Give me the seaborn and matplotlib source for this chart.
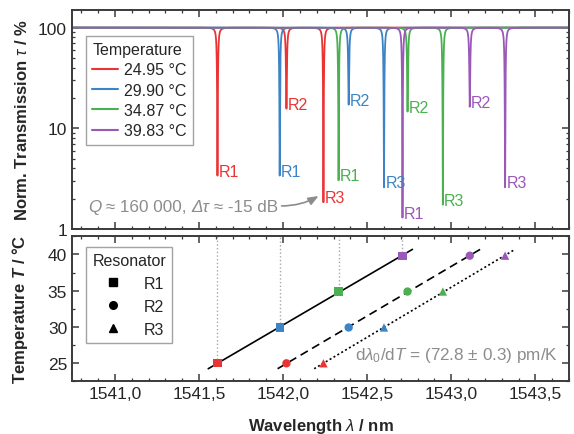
import numpy as np
import pandas as pd
import matplotlib
matplotlib.use("Agg")
import matplotlib.pyplot as plt
from matplotlib.ticker import FuncFormatter, MultipleLocator, LogLocator, NullFormatter
from matplotlib.lines import Line2D
import seaborn as sns

# ---------------- data ----------------
temps = [24.95, 29.90, 34.87, 39.83]
temp_labels = ["24.95 °C", "29.90 °C", "34.87 °C", "39.83 °C"]
colors = ["#ea3434", "#3d84c6", "#4bb04f", "#9a58b8"]
resonators = ["R1", "R2", "R3"]

# resonance wavelengths (nm) per temperature, order R1, R2, R3
res_wl = {
    "24.95 °C": [1541.61, 1542.02, 1542.24],
    "29.90 °C": [1541.98, 1542.39, 1542.60],
    "34.87 °C": [1542.33, 1542.74, 1542.95],
    "39.83 °C": [1542.71, 1543.11, 1543.32],
}
# minimum transmission (%) of each dip
res_min = {
    "24.95 °C": [3.4, 15.7, 1.85],
    "29.90 °C": [3.4, 17.2, 2.6],
    "34.87 °C": [3.05, 14.7, 1.75],
    "39.83 °C": [1.3, 16.4, 2.6],
}
Q_factor = 160000
# annotation pieces: (text, italic?)
q_parts = [("Q", True), (" ≈ 160 000, ", False), ("Δτ", True), (" ≈ -15 dB", False)]
slope_text = "d$\\mathit{λ}_0$/d$\\mathit{T}$ = (72.8 ± 0.3) pm/K"

# ---------------- style ----------------
sns.set_theme(style="ticks")
plt.rcParams["font.family"] = ["Liberation Sans", "DejaVu Sans"]
plt.rcParams["mathtext.fontset"] = "custom"
plt.rcParams["mathtext.rm"] = "Liberation Sans"
plt.rcParams["mathtext.it"] = "Liberation Sans:italic"
plt.rcParams["mathtext.bf"] = "Liberation Sans:bold"
try:
    plt.rcParams["mathtext.bfit"] = "Liberation Sans:italic:bold"
    has_bfit = True
except Exception:
    has_bfit = False
plt.rcParams["axes.edgecolor"] = "#3a3a3a"
plt.rcParams["axes.linewidth"] = 1.4
LFS = 12      # axis labels
TFS = 12.5    # tick labels
GFS = 11.5    # legends / dip labels
AFS = 12.3    # annotations
GREY = "#8c8c8c"

fig = plt.figure(figsize=(5.74, 4.35), dpi=100)
ax1 = fig.add_axes([0.1254, 0.471, 0.8659, 0.504])
ax2 = fig.add_axes([0.1254, 0.1218, 0.8659, 0.3342], sharex=ax1)

# ---------------- spectra ----------------
wl = np.linspace(1540.74, 1543.71, 40001)
frames = []
for lab in temp_labels:
    T = np.ones_like(wl)
    for c, m in zip(res_wl[lab], res_min[lab]):
        g = c / (2 * Q_factor)
        T *= 1 - (1 - m / 100.0) * g**2 / ((wl - c) ** 2 + g**2)
    frames.append(pd.DataFrame({"wl": wl, "tr": 100 * T, "temp": lab}))
spec = pd.concat(frames, ignore_index=True)
sns.lineplot(data=spec, x="wl", y="tr", hue="temp", hue_order=temp_labels,
             palette=colors, estimator=None, sort=False, lw=1.3, ax=ax1,
             legend=False)
ax1.set_yscale("log")
ax1.set_ylim(1, 150)
ax1.set_xlim(1540.745, 1543.70)

for lab, col in zip(temp_labels, colors):
    for c, m, r in zip(res_wl[lab], res_min[lab], resonators):
        ax1.text(c + 0.008, m, r, color=col, fontsize=GFS, ha="left", va="baseline")

# chained text pieces so that Δ can be italic
prev = ax1.text(1540.84, 1.52, q_parts[0][0], color=GREY, fontsize=AFS,
                ha="left", va="baseline", style="italic" if q_parts[0][1] else "normal")
for txt, it in q_parts[1:]:
    prev = ax1.annotate(txt, xy=(1, 0), xycoords=prev, ha="left", va="bottom",
                        color=GREY, fontsize=AFS,
                        style="italic" if it else "normal")

ax1.annotate("", xy=(1542.225, 2.2), xytext=(1541.975, 1.70),
             arrowprops=dict(arrowstyle="-|>,head_length=0.5,head_width=0.2",
                             color=GREY, lw=1.2,
                             connectionstyle="arc3,rad=0.15"))

h1 = [Line2D([], [], color=c, lw=1.5) for c in colors]
leg1 = ax1.legend(h1, temp_labels, title="Temperature", loc="upper left",
                  bbox_to_anchor=(0.028, 0.882), borderaxespad=0, fontsize=GFS,
                  title_fontsize=GFS, frameon=True, fancybox=False,
                  edgecolor=GREY, handlelength=1.6, handletextpad=0.4,
                  labelspacing=0.33, borderpad=0.4, alignment="left")
leg1.get_frame().set_linewidth(1.0)

ax1.set_ylabel("Norm. Transmission $\\mathit{τ}$ / %", fontsize=LFS,
               fontweight="bold")
ax1.yaxis.set_major_formatter(FuncFormatter(lambda v, p: f"{v:g}"))
ax1.yaxis.set_major_locator(LogLocator(base=10, numticks=5))
ax1.yaxis.set_minor_locator(LogLocator(base=10, subs=np.arange(2, 10), numticks=10))
ax1.yaxis.set_minor_formatter(NullFormatter())
ax1.set_xlabel("")
plt.setp(ax1.get_xticklabels(), visible=False)

# ---------------- temperature vs wavelength ----------------
rows = []
for lab, t in zip(temp_labels, temps):
    for c, r in zip(res_wl[lab], resonators):
        rows.append({"wl": c, "T": t, "temp": lab, "res": r})
pts = pd.DataFrame(rows)

# vertical guides from R1 points
r1 = pts[pts.res == "R1"]
ax2.vlines(r1.wl, r1["T"], 42.6, colors="#a8a8a8", linestyles=":", lw=1.0, zorder=1)

styles = {"R1": "-", "R2": (0, (5, 3)), "R3": (0, (1.2, 1.5))}
for r in resonators:
    sub = pts[pts.res == r]
    a, b = np.polyfit(sub["T"], sub.wl, 1)
    tt = np.array([24.2, 40.7])
    ax2.plot(a * tt + b, tt, color="black", lw=1.2, ls=styles[r], zorder=2)

sns.scatterplot(data=pts, x="wl", y="T", hue="temp", hue_order=temp_labels,
                palette=colors, style="res", markers={"R1": "s", "R2": "o", "R3": "^"},
                s=36, linewidth=0, legend=False, ax=ax2, zorder=3)
ax2.set_ylim(22.5, 42.6)

ax2.text(1542.43, 25.55, slope_text, color=GREY, fontsize=AFS,
         ha="left", va="baseline")

h2 = [Line2D([], [], color="black", marker=m, ls="none", ms=5.5)
      for m in ["s", "o", "^"]]
leg2 = ax2.legend(h2, resonators, title="Resonator", loc="upper left",
                  bbox_to_anchor=(0.028, 0.924), borderaxespad=0, fontsize=GFS,
                  title_fontsize=GFS, frameon=True, fancybox=False,
                  edgecolor=GREY, handlelength=2.6, handletextpad=0.6,
                  labelspacing=0.5, borderpad=0.4, alignment="left")
leg2.get_frame().set_linewidth(1.0)

tl = "$\\mathbfit{T}$" if has_bfit else "$\\mathit{T}$"
ax2.set_ylabel(f"Temperature {tl} / °C", fontsize=LFS, fontweight="bold")
ax2.set_xlabel("Wavelength $\\mathit{λ}$ / nm", fontsize=LFS,
               fontweight="bold", labelpad=11)
ax2.yaxis.set_major_locator(MultipleLocator(5))
ax2.yaxis.set_minor_locator(MultipleLocator(2.5))
ax2.xaxis.set_major_locator(MultipleLocator(0.5))
ax2.xaxis.set_minor_locator(MultipleLocator(0.1))
ax2.xaxis.set_major_formatter(FuncFormatter(lambda v, p: f"{v:.1f}".replace(".", ",")))

for ax in (ax1, ax2):
    ax.tick_params(which="both", direction="in", top=True, right=True,
                   color="#3a3a3a", labelsize=TFS)
    ax.tick_params(which="major", length=5, width=1.1)
    ax.tick_params(which="minor", length=2.5, width=0.9)
    ax.yaxis.set_label_coords(-0.085, 0.5)

fig.savefig("out.png", dpi=100)
